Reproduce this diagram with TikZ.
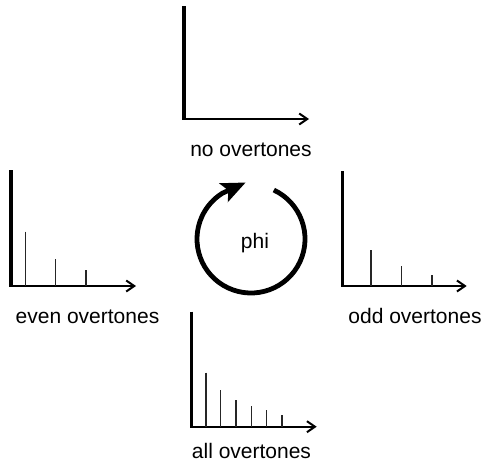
\documentclass[tikz,border=0pt]{standalone}
\usepackage{fontspec}
\setmainfont{Liberation Sans}
\usetikzlibrary{arrows.meta}
\begin{document}
\begin{tikzpicture}[x=1pt,y=1pt,
  yaxis/.style={line width=3.2pt,line cap=butt},
  xaxis/.style={line width=2pt,-{Straight Barb[length=8pt,width=11pt,line width=2pt]}},
  spike/.style={line width=1.1pt,black!85},
  lbl/.style={anchor=base,inner sep=0pt,font=\fontsize{21}{25}\selectfont},
  cyc/.style={line width=4.8pt,-{Stealth[length=24pt,width=20pt,inset=5pt]}}]
\useasboundingbox (0,0) rectangle (487,-463);
% top chart: no overtones
\coordinate (tT) at (184,-6);
\coordinate (tO) at (184,-119);
\coordinate (tE) at (309,-119);
\draw[yaxis] (tT) -- ([yshift=-1pt]tO);
\draw[xaxis] ([xshift=-1.5pt]tO) -- (tE);
\node[lbl] (tL) at (251,-156) {no overtones};
% left chart: even overtones
\coordinate (lT) at (11,-170);
\coordinate (lO) at (11,-286);
\coordinate (lE) at (136,-286);
\draw[yaxis] (lT) -- ([yshift=-1pt]lO);
\draw[xaxis] ([xshift=-1.5pt]lO) -- (lE);
\coordinate (l1) at (25.7,-231.7);
\coordinate (l2) at (55.3,-259);
\coordinate (l3) at (86,-270);
\foreach \s in {l1,l2,l3} \draw[spike] (\s) -- (\s |- lO);
\node[lbl] (lL) at (87.5,-323) {even overtones};
% right chart: odd overtones
\coordinate (rT) at (342.3,-171);
\coordinate (rO) at (342.3,-286);
\coordinate (rE) at (466.7,-286);
\draw[yaxis] (rT) -- ([yshift=-1pt]rO);
\draw[xaxis] ([xshift=-1.5pt]rO) -- (rE);
\coordinate (r1) at (371,-250);
\coordinate (r2) at (401.7,-266);
\coordinate (r3) at (432,-275.3);
\foreach \s in {r1,r2,r3} \draw[spike] (\s) -- (\s |- rO);
\node[lbl] (rL) at (415,-323) {odd overtones};
% bottom chart: all overtones
\coordinate (bT) at (191.7,-311.7);
\coordinate (bO) at (191.7,-426.7);
\coordinate (bE) at (316.7,-426.7);
\draw[yaxis] (bT) -- ([yshift=-1pt]bO);
\draw[xaxis] ([xshift=-1.5pt]bO) -- (bE);
\coordinate (b1) at (206,-372.7);
\coordinate (b2) at (220.7,-390.3);
\coordinate (b3) at (236,-400);
\coordinate (b4) at (251.3,-406);
\coordinate (b5) at (266.7,-410);
\coordinate (b6) at (282,-415.3);
\foreach \s in {b1,b2,b3,b4,b5,b6} \draw[spike] (\s) -- (\s |- bO);
\node[lbl] (bL) at (251.5,-458) {all overtones};
% phase cycle
\coordinate (cC) at (251,-239);
\coordinate (cTip) at (245.7,-182.5);
\draw[cyc] ([shift={(65:54)}]cC) arc[start angle=65,end angle=-238,radius=54] -- (cTip);
\node[lbl] (phi) at (255,-248) {phi};
\end{tikzpicture}
\end{document}
